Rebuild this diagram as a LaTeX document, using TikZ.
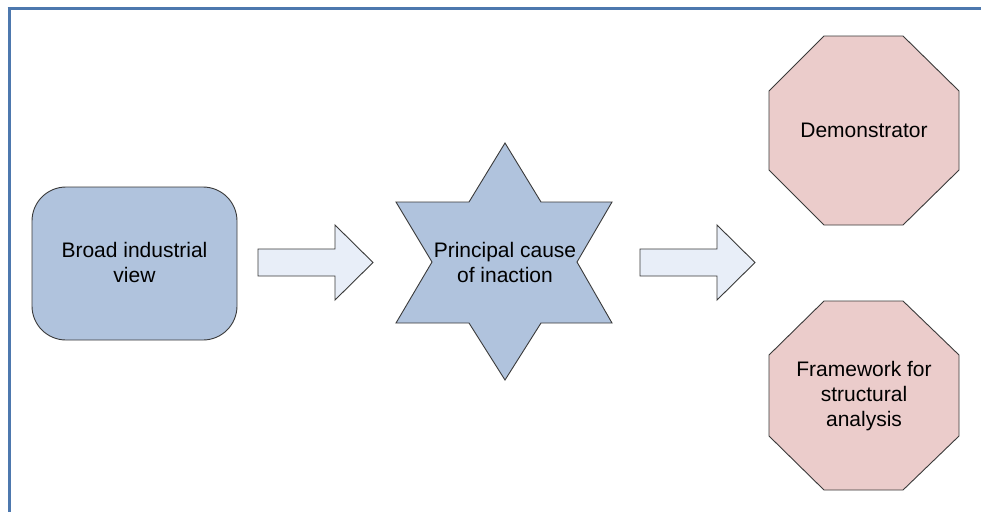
\documentclass[tikz,border=0pt]{standalone}
\usepackage{fontspec}
\setmainfont{Liberation Sans}
\definecolor{framecol}{HTML}{4D78AE}
\definecolor{bluefill}{HTML}{B0C3DD}
\definecolor{pinkfill}{HTML}{EBCCCB}
\definecolor{arrowfill}{HTML}{E8EEF8}
\definecolor{edgecol}{HTML}{3A3A3A}
\tikzset{
  shapeline/.style={draw=edgecol, line width=0.9pt, line join=miter},
  label/.style={align=center, font=\fontsize{21}{25}\selectfont, text=black, inner sep=0pt},
  blockarrow/.style={shapeline, fill=arrowfill},
}
\begin{document}
\begin{tikzpicture}[x=1pt, y=-1pt]
\useasboundingbox (0,0) rectangle (981,512);
\fill[white] (0,0) rectangle (981,512);

% frame edges
\draw[framecol, line width=3pt] (7.5,8.5) -- (981,8.5);
\draw[framecol, line width=3pt] (9,7) -- (9,512);

% rounded box
\draw[shapeline, fill=bluefill, rounded corners=34pt] (32,187) rectangle (237,340);
\node[label] (broad) at (134.5,262.5) {Broad industrial\\view};

% six-pointed star
\draw[shapeline, fill=bluefill]
  (505,143) -- (541,202) -- (612,202) -- (577,262) -- (612,323) -- (541,323)
  -- (505,380) -- (469,323) -- (396,323) -- (432,262) -- (396,202) -- (469,202) -- cycle;
\node[label] (cause) at (505,262) {Principal cause\\of inaction};

% octagons
\draw[shapeline, fill=pinkfill]
  (824,36) -- (903,36) -- (959,91) -- (959,170) -- (903,225) -- (824,225) -- (769,170) -- (769,91) -- cycle;
\node[label] (demo) at (864,130) {Demonstrator};

\draw[shapeline, fill=pinkfill]
  (824,301) -- (903,301) -- (959,355) -- (959,436) -- (903,490) -- (824,490) -- (769,436) -- (769,355) -- cycle;
\node[label] (frame) at (864,396.5) {Framework for\\structural\\analysis};

% block arrows
\coordinate (a1) at (258,262);
\coordinate (a2) at (640,262);
\foreach \p in {a1,a2}{
  \draw[blockarrow] ([shift={(0,-13)}]\p) -- ++(77,0) -- ++(0,-24) -- ++(38,37.5)
    -- ++(-38,37.5) -- ++(0,-24) -- ++(-77,0) -- cycle;
}
\end{tikzpicture}
\end{document}
